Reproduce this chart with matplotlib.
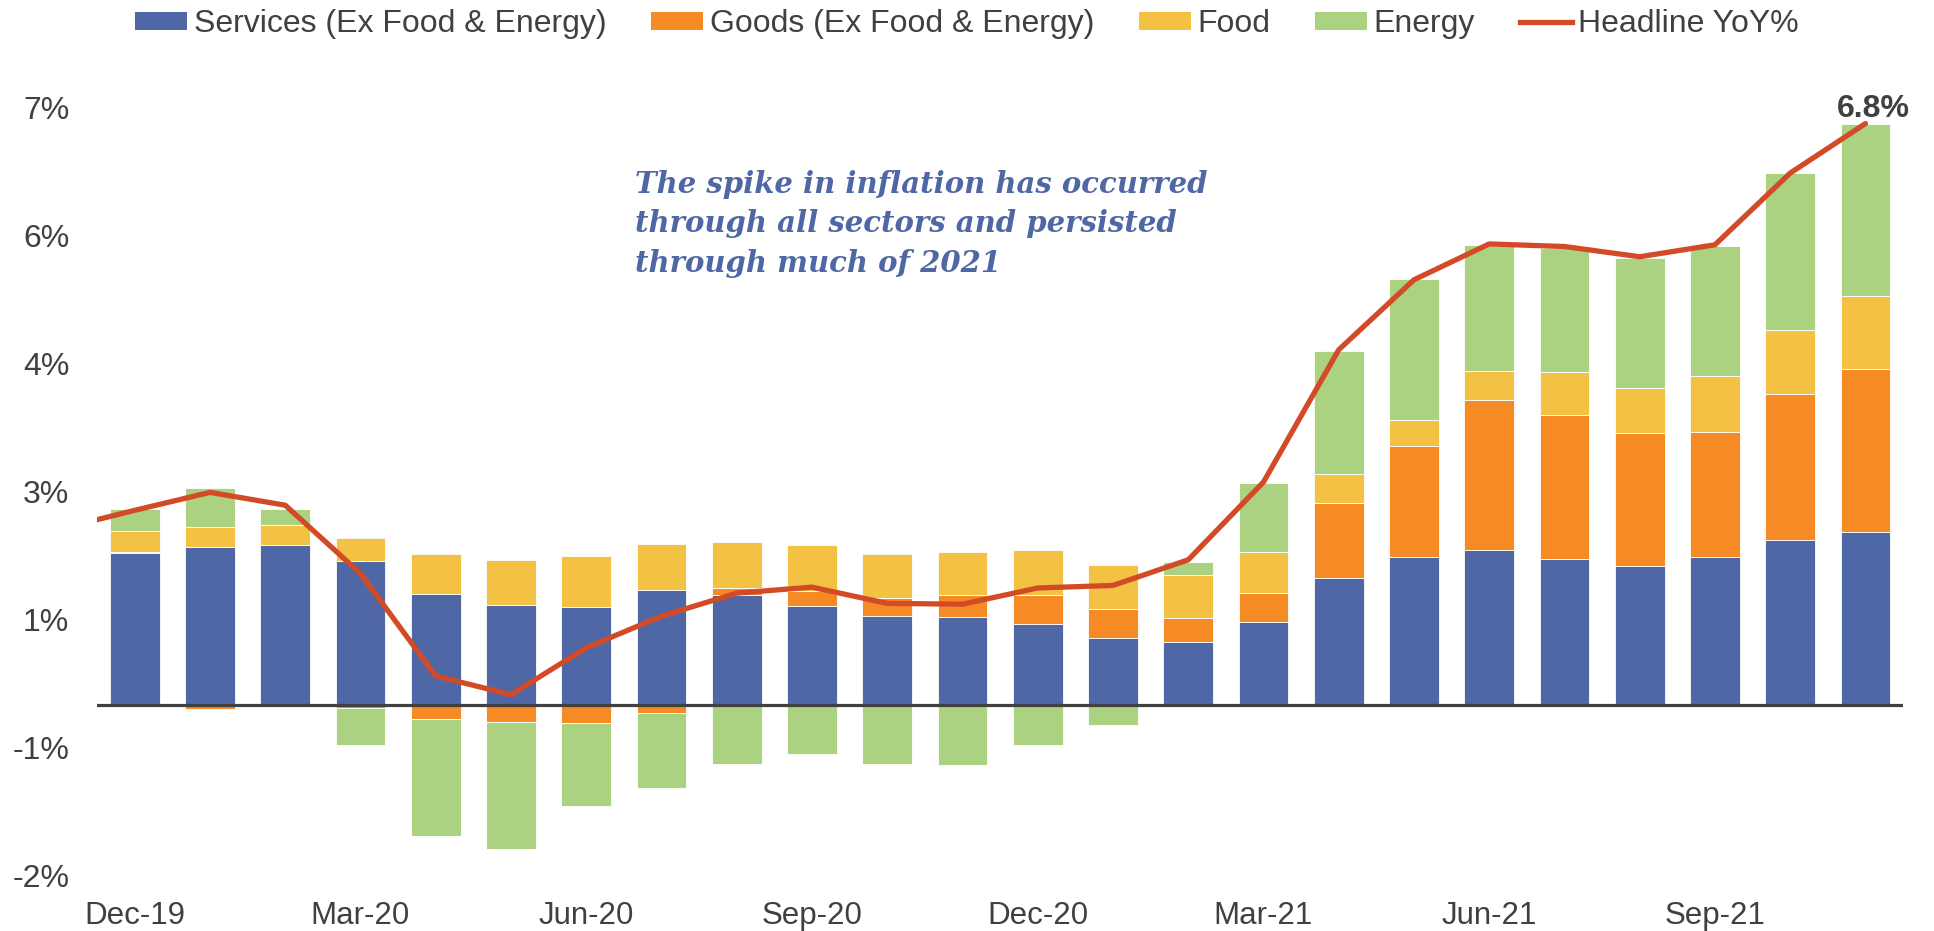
import matplotlib
matplotlib.use("Agg")
import matplotlib.pyplot as plt
import numpy as np
from matplotlib.lines import Line2D
from matplotlib.patches import Patch

months = ["Dec-19", "Jan-20", "Feb-20", "Mar-20", "Apr-20", "May-20", "Jun-20", "Jul-20",
          "Aug-20", "Sep-20", "Oct-20", "Nov-20", "Dec-20", "Jan-21", "Feb-21", "Mar-21",
          "Apr-21", "May-21", "Jun-21", "Jul-21", "Aug-21", "Sep-21", "Oct-21", "Nov-21"]

services = [1.78, 1.85, 1.87, 1.69, 1.30, 1.17, 1.15, 1.35, 1.29, 1.16, 1.04, 1.03,
            0.95, 0.78, 0.74, 0.97, 1.49, 1.73, 1.82, 1.71, 1.63, 1.73, 1.93, 2.03]
goods = [0.01, -0.05, 0.00, -0.03, -0.17, -0.20, -0.21, -0.10, 0.08, 0.17, 0.21, 0.26,
         0.34, 0.34, 0.28, 0.34, 0.87, 1.30, 1.75, 1.69, 1.55, 1.47, 1.71, 1.90]
food = [0.25, 0.24, 0.24, 0.26, 0.47, 0.53, 0.60, 0.53, 0.54, 0.54, 0.52, 0.50,
        0.53, 0.52, 0.50, 0.48, 0.34, 0.31, 0.34, 0.50, 0.53, 0.65, 0.75, 0.86]
energy = [0.25, 0.45, 0.19, -0.44, -1.37, -1.49, -0.97, -0.87, -0.69, -0.58, -0.69, -0.70,
          -0.47, -0.23, 0.15, 0.81, 1.45, 1.65, 1.48, 1.45, 1.52, 1.53, 1.84, 2.01]
headline = [2.28, 2.49, 2.34, 1.54, 0.34, 0.12, 0.67, 1.04, 1.31, 1.38, 1.19, 1.18,
            1.37, 1.40, 1.70, 2.61, 4.16, 4.98, 5.40, 5.37, 5.25, 5.39, 6.23, 6.81]
headline_prev = 2.06  # Nov-19, point before the visible window (clipped)

series_names = ["Services (Ex Food & Energy)", "Goods (Ex Food & Energy)", "Food", "Energy"]
series_colors = ["#4F67A5", "#F68A25", "#F3C244", "#ABD281"]
line_name = "Headline YoY%"
line_color = "#D24A26"

ytick_vals = [-2, -0.5, 1, 2.5, 4, 5.5, 7]
ytick_labels = ["-2%", "-1%", "1%", "3%", "4%", "6%", "7%"]
xtick_labels = ["Dec-19", "Mar-20", "Jun-20", "Sep-20", "Dec-20", "Mar-21", "Jun-21", "Sep-21"]

annotation = "The spike in inflation has occurred\nthrough all sectors and persisted\nthrough much of 2021"
end_label = "6.8%"

text_color = "#404040"
plt.rcParams["font.family"] = ["Liberation Sans", "DejaVu Sans"]

fig = plt.figure(figsize=(19.34, 9.31), dpi=100)
ax = fig.add_axes([0.0502, 0.0594, 0.9338, 0.8253])

x = np.arange(len(months))
width = 0.66
pos_base = np.zeros(len(months))
neg_base = np.zeros(len(months))
for vals, color in zip([services, goods, food, energy], series_colors):
    v = np.array(vals)
    bottoms = np.where(v >= 0, pos_base, neg_base)
    ax.bar(x, v, width=width, bottom=bottoms, color=color, edgecolor="white",
           linewidth=0.6, zorder=2)
    pos_base = pos_base + np.where(v >= 0, v, 0)
    neg_base = neg_base + np.where(v < 0, v, 0)

ax.axhline(0, color="#404040", linewidth=2.3, zorder=3)

lx = np.concatenate([[-1], x])
ly = np.concatenate([[headline_prev], headline])
ax.plot(lx, ly, color=line_color, linewidth=3.8, zorder=4, solid_capstyle="round")

ax.annotate(end_label, xy=(x[-1], headline[-1]), xytext=(5.5, 4.5), textcoords="offset points",
            ha="center", va="baseline", fontsize=23, fontweight="bold", color=text_color,
            annotation_clip=False)

ax.text(635 / 1934, 1 - 224 / 931, annotation, transform=fig.transFigure,
        fontsize=21, fontfamily="DejaVu Serif", fontstyle="italic", fontweight="bold",
        color="#4F67A5", ha="left", va="center", linespacing=1.45)

ax.set_xlim(-0.5, len(months) - 0.5)
ax.set_ylim(-2, 7)
ax.set_yticks(ytick_vals)
ax.set_yticklabels(ytick_labels)
tick_pos = [months.index(m) for m in xtick_labels]
ax.set_xticks(tick_pos)
ax.set_xticklabels(xtick_labels)
ax.tick_params(axis="both", length=0, labelsize=23, colors=text_color)
ax.tick_params(axis="x", pad=18, labelsize=22.5)
ax.tick_params(axis="y", pad=20)
for s in ax.spines.values():
    s.set_visible(False)

handles = [Patch(facecolor=c, label=n) for n, c in zip(series_names, series_colors)]
handles.append(Line2D([0], [0], color=line_color, linewidth=3.8, label=line_name))
fig.legend(handles=handles, loc="center", bbox_to_anchor=(0.500, 1 - 24 / 931), ncol=5,
           frameon=False, fontsize=23, handlelength=1.63, handleheight=0.5,
           handletextpad=0.2, columnspacing=1.4, labelcolor=text_color,
           borderpad=0.1)

fig.savefig("out.png", dpi=100)
